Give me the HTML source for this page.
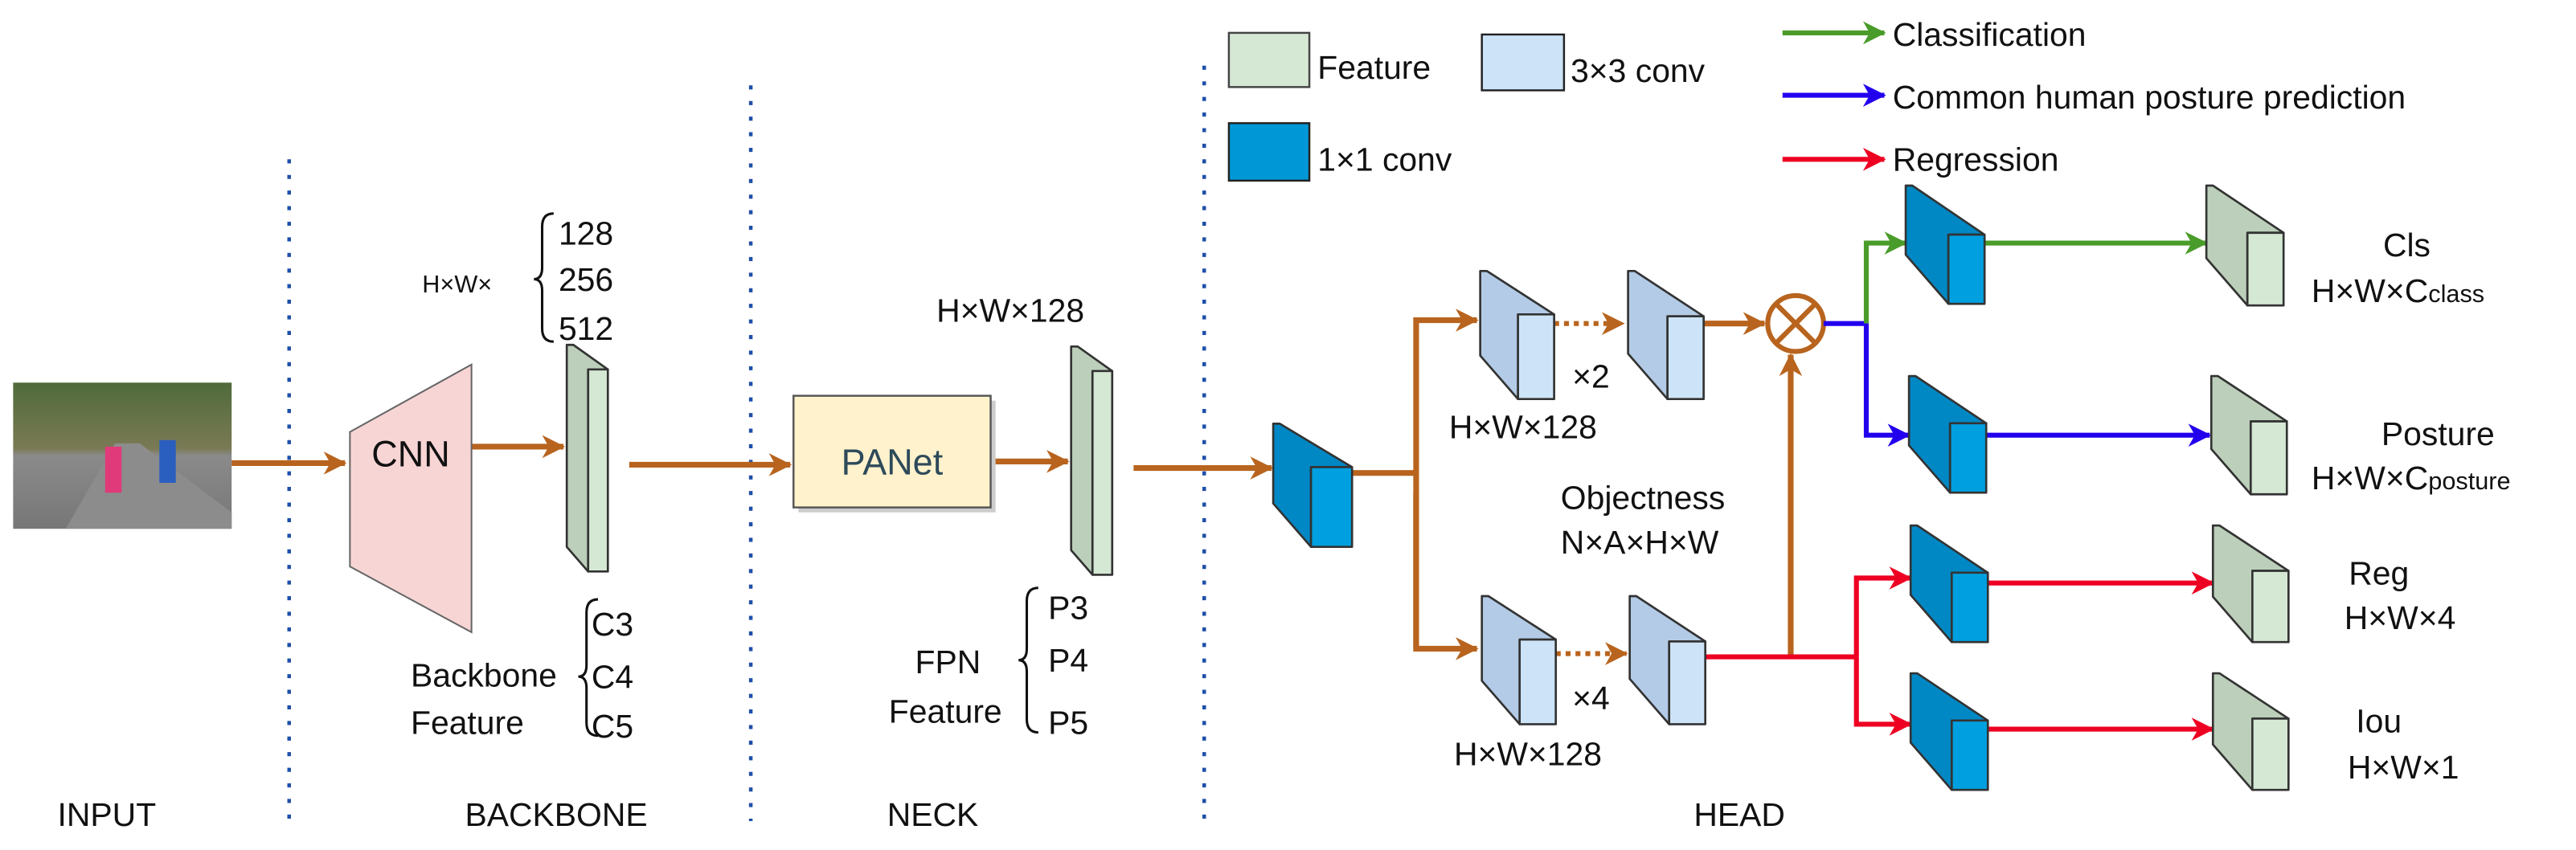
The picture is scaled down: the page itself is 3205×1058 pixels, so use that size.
<!DOCTYPE html>
<html><head><meta charset="utf-8"><style>
html,body{margin:0;padding:0;background:#fff;}
svg{display:block;}
text{font-family:"Liberation Sans Narrow","Liberation Sans",sans-serif;fill:#111;}
</style></head><body>
<svg id="s" width="3205" height="1058" viewBox="0 0 1568 517.6" xmlns="http://www.w3.org/2000/svg">
<defs>
<marker id="mo" markerWidth="14" markerHeight="14" refX="13" refY="7" orient="auto" markerUnits="userSpaceOnUse"><path d="M0,0 L14,7 L0,14 L4,7z" fill="#b8641e"/></marker>
<marker id="mg" markerWidth="14" markerHeight="14" refX="13" refY="7" orient="auto" markerUnits="userSpaceOnUse"><path d="M0,0 L14,7 L0,14 L4,7z" fill="#4a9c2a"/></marker>
<marker id="mb" markerWidth="14" markerHeight="14" refX="13" refY="7" orient="auto" markerUnits="userSpaceOnUse"><path d="M0,0 L14,7 L0,14 L4,7z" fill="#2200ee"/></marker>
<marker id="mr" markerWidth="14" markerHeight="14" refX="13" refY="7" orient="auto" markerUnits="userSpaceOnUse"><path d="M0,0 L14,7 L0,14 L4,7z" fill="#ee0022"/></marker>
<linearGradient id="ph" x1="0" y1="0" x2="0" y2="1"><stop offset="0" stop-color="#4f6a3a"/><stop offset="0.45" stop-color="#7a7a55"/><stop offset="0.5" stop-color="#8a8a8a"/><stop offset="1" stop-color="#777"/></linearGradient>
</defs>
<g stroke="#1f4fa8" stroke-width="2.2" stroke-dasharray="2.5,7">
<line x1="176" y1="97" x2="176" y2="500"/>
<line x1="457" y1="52" x2="457" y2="500"/>
<line x1="733" y1="40" x2="733" y2="505"/>
</g>
<rect x="8" y="233" width="133" height="89" fill="url(#ph)"/>
<polygon points="40,322 70,270 85,270 141,312 141,322" fill="#8c8c8c"/>
<rect x="64" y="272" width="10" height="28" fill="#e03a7a"/>
<rect x="97" y="268" width="10" height="26" fill="#2a5fc0"/>
<g stroke="#b8641e" stroke-width="3.5" fill="none">
<line x1="141" y1="282" x2="210" y2="282" marker-end="url(#mo)"/>
<line x1="287" y1="272" x2="343" y2="272" marker-end="url(#mo)"/>
<line x1="383" y1="283" x2="481" y2="283" marker-end="url(#mo)"/>
<line x1="603" y1="281" x2="650" y2="281" marker-end="url(#mo)"/>
<line x1="690" y1="285" x2="774" y2="285" marker-end="url(#mo)"/>
<polyline points="823,288 862,288"/>
<polyline points="862,395 862,195 899,195" marker-end="url(#mo)"/>
<polyline points="862,300 862,395 899,395" marker-end="url(#mo)"/>
<line x1="1037" y1="197" x2="1074" y2="197" marker-end="url(#mo)"/>
<line x1="1090" y1="400" x2="1090" y2="216" marker-end="url(#mo)"/>
</g>
<g stroke="#b8641e" stroke-width="3" stroke-dasharray="3,3" fill="none">
<line x1="946" y1="197" x2="988" y2="197" marker-end="url(#mo)"/>
<line x1="947" y1="398" x2="990" y2="398" marker-end="url(#mo)"/>
</g>
<circle cx="1093" cy="197" r="17" fill="none" stroke="#b8641e" stroke-width="3"/>
<line x1="1081" y1="185" x2="1105" y2="209" stroke="#b8641e" stroke-width="3"/>
<line x1="1105" y1="185" x2="1081" y2="209" stroke="#b8641e" stroke-width="3"/>
<polygon points="213,263 287,222 287,385 213,345" fill="#f8d5d5" stroke="#666" stroke-width="1"/>
<text x="250" y="284" font-size="22" text-anchor="middle">CNN</text>
<rect x="486" y="244" width="120" height="68" fill="#ccc"/>
<rect x="483" y="241" width="120" height="68" fill="#fff2cc" stroke="#555" stroke-width="1.2"/>
<text x="543" y="289" font-size="22" text-anchor="middle" style="fill:#2d4a5a">PANet</text>
<g stroke-width="3" fill="none">
<line x1="1110" y1="197" x2="1136" y2="197" stroke="#2200ee"/>
<polyline points="1136,197 1136,148 1160,148" stroke="#4a9c2a" marker-end="url(#mg)"/>
<polyline points="1136,197 1136,265 1162,265" stroke="#2200ee" marker-end="url(#mb)"/>
<line x1="1208" y1="148" x2="1343" y2="148" stroke="#4a9c2a" marker-end="url(#mg)"/>
<line x1="1209" y1="265" x2="1345" y2="265" stroke="#2200ee" marker-end="url(#mb)"/>
<line x1="1038" y1="400" x2="1130" y2="400" stroke="#ee0022"/>
<polyline points="1130,400 1130,352 1163,352" stroke="#ee0022" marker-end="url(#mr)"/>
<polyline points="1130,400 1130,441 1163,441" stroke="#ee0022" marker-end="url(#mr)"/>
<line x1="1210" y1="355" x2="1347" y2="355" stroke="#ee0022" marker-end="url(#mr)"/>
<line x1="1210" y1="444" x2="1347" y2="444" stroke="#ee0022" marker-end="url(#mr)"/>
<line x1="1085" y1="20" x2="1147" y2="20" stroke="#4a9c2a" marker-end="url(#mg)"/>
<line x1="1085" y1="58" x2="1147" y2="58" stroke="#2200ee" marker-end="url(#mb)"/>
<line x1="1085" y1="97" x2="1147" y2="97" stroke="#ee0022" marker-end="url(#mr)"/>
</g>
<g id="cubes"></g>
<rect x="748" y="20" width="49" height="33" fill="#d5e8d4" stroke="#444" stroke-width="1.2"/>
<rect x="902" y="21" width="50" height="34" fill="#cde4f8" stroke="#222" stroke-width="1.2"/>
<rect x="748" y="75" width="49" height="35" fill="#0097d6" stroke="#222" stroke-width="1.2"/>
<g font-size="20">
<text x="802" y="48">Feature</text>
<text x="956" y="50">3×3  conv</text>
<text x="802" y="104">1×1  conv</text>
<text x="1152" y="28">Classification</text>
<text x="1152" y="66">Common human posture prediction</text>
<text x="1152" y="104">Regression</text>
<text x="340" y="149">128</text>
<text x="340" y="177">256</text>
<text x="340" y="207">512</text>
<text x="570" y="196">H×W×128</text>
<text x="360" y="387">C3</text>
<text x="360" y="419">C4</text>
<text x="360" y="449">C5</text>
<text x="250" y="418">Backbone</text>
<text x="250" y="447">Feature</text>
<text x="557" y="410">FPN</text>
<text x="541" y="440">Feature</text>
<text x="638" y="377">P3</text>
<text x="638" y="409">P4</text>
<text x="638" y="447">P5</text>
<text x="35" y="503">INPUT</text>
<text x="283" y="503">BACKBONE</text>
<text x="540" y="503">NECK</text>
<text x="1031" y="503">HEAD</text>
<text x="882" y="267">H×W×128</text>
<text x="885" y="466">H×W×128</text>
<text x="957" y="236">×2</text>
<text x="957" y="432">×4</text>
<text x="950" y="310">Objectness</text>
<text x="950" y="337">N×A×H×W</text>
<text x="1465" y="156" text-anchor="middle">Cls</text>
<text x="1407" y="184">H×W×C<tspan font-size="15">class</tspan></text>
<text x="1484" y="271" text-anchor="middle">Posture</text>
<text x="1407" y="298">H×W×C<tspan font-size="15">posture</tspan></text>
<text x="1448" y="356" text-anchor="middle">Reg</text>
<text x="1427" y="383">H×W×4</text>
<text x="1448" y="446" text-anchor="middle">Iou</text>
<text x="1429" y="474">H×W×1</text>
</g>
<text x="257" y="178" font-size="15">H×W×</text>
<g stroke="#111" stroke-width="1.5" fill="none">
<path d="M337,130 Q330,130 330,138 L330,163 Q330,170 325,170 Q330,170 330,177 L330,200 Q330,208 337,208"/>
<path d="M364,365 Q357,365 357,373 L357,405 Q357,412 352,412 Q357,412 357,419 L357,440 Q357,448 364,448"/>
<path d="M632,358 Q625,358 625,366 L625,395 Q625,402 620,402 Q625,402 625,409 L625,438 Q625,446 632,446"/>
</g>
</svg>
<script>
(function(){
var g=document.getElementById('cubes');var ns='http://www.w3.org/2000/svg';
function poly(p,f){var e=document.createElementNS(ns,'polygon');e.setAttribute('points',p);e.setAttribute('fill',f);e.setAttribute('stroke','#333');e.setAttribute('stroke-width','1.3');e.setAttribute('stroke-linejoin','round');g.appendChild(e);}
function cube(x0,y0,x1,y1,side,front,fw){
 var dx=(x1-x0)-fw, dy=dx*1.15;
 var fx=x0+dx, fy=y0+dy;
 poly(x0+','+y0+' '+(x0+4)+','+y0+' '+x1+','+fy+' '+fx+','+fy+' '+fx+','+y1+' '+x0+','+(y1-dy),side);
 poly(fx+','+fy+' '+x1+','+fy+' '+x1+','+y1+' '+fx+','+y1,front);
}
var G=['#bccfba','#d5e8d4'],L=['#b3cbe6','#cde4f8'],D=['#0088c5','#00a0e0'];
cube(345,210,370,348,G[0],G[1],12);
cube(652,211,677,350,G[0],G[1],12);
cube(775,258,823,333,D[0],D[1],25);
cube(901,165,946,243,L[0],L[1],22);
cube(991,165,1037,243,L[0],L[1],22);
cube(902,363,947,441,L[0],L[1],22);
cube(992,363,1038,441,L[0],L[1],22);
cube(1160,113,1208,185,D[0],D[1],22);
cube(1162,229,1209,300,D[0],D[1],22);
cube(1163,320,1210,391,D[0],D[1],22);
cube(1163,410,1210,481,D[0],D[1],22);
cube(1343,113,1390,186,G[0],G[1],22);
cube(1346,229,1392,301,G[0],G[1],22);
cube(1347,320,1393,391,G[0],G[1],22);
cube(1347,410,1393,481,G[0],G[1],22);
})();
</script>
</body></html>
